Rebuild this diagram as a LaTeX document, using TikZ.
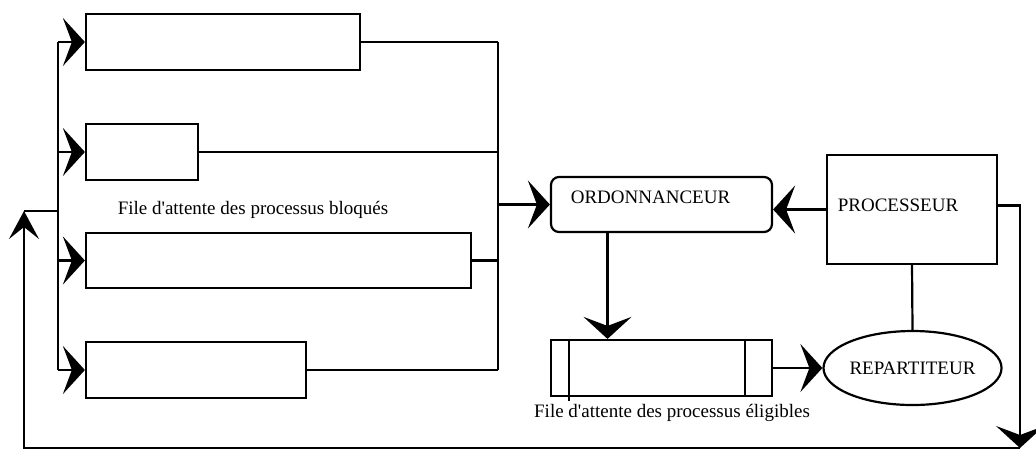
\documentclass[tikz,border=0pt]{standalone}
\usepackage{fontspec}
\setmainfont{Liberation Serif}[Ligatures=TeXOff]
\usetikzlibrary{arrows.meta, positioning, shapes.geometric}

\begin{document}
\begin{tikzpicture}[
    x=0.5pt, y=-0.5pt,
    line width=1.1pt,
    every node/.style={font=\fontsize{9.5}{11}\selectfont, inner sep=0pt},
    box/.style={draw, minimum height=28pt},
    arrow/.style={-{Stealth[length=11pt, width=24pt, inset=4.5pt]}},
    uparrow/.style={-{Stealth[length=14pt, width=15pt, inset=6pt]}}
]
    \useasboundingbox (0,0) rectangle (1036,450);

    % Nodes
    \node[box, minimum width=137pt] (box1) at (223,42) {};
    \node[box, minimum width=56pt] (box2) at (142,152) {};
    \node[box, minimum width=192.5pt, minimum height=27.5pt] (box3) at (278.5,260.5) {};
    \node[box, minimum width=110pt] (box4) at (196,370) {};
    \node (lblbloq) at (253,210) {File d'attente des processus bloqués};

    \node[box, rounded corners=4pt, minimum width=110.5pt, minimum height=27.5pt,
          label={[xshift=-5.5pt, yshift=3.5pt]center:ORDONNANCEUR}] (ordo) at (661.5,204.5) {};
    \node[box, minimum width=85pt, minimum height=54.5pt,
          label={[xshift=-7pt, yshift=2pt]center:PROCESSEUR}] (proc) at (912,209.5) {};
    \node[box, minimum width=110.5pt] (elig) at (661.5,368) {};
    \node (lbelig) at (672,413) {File d'attente des processus éligibles};
    \node[draw, ellipse, minimum width=84.5pt, minimum height=37pt] (rep) at (912.5,368) {REPARTITEUR};

    \coordinate (lbus) at (58,0);
    \coordinate (rbus) at (498,0);
    \coordinate (ret) at (1020,448);
    \coordinate (up) at (24,211);

    % Queue walls
    \draw ([xshift=9.5pt]elig.north west) -- ([xshift=9.5pt, yshift=-2pt]elig.south west);
    \draw ([xshift=-14pt]elig.north east) -- ([xshift=-14pt]elig.south east);

    % Arrows
    \draw (lbus |- box1.west) -- (lbus |- box4.west);
    \draw (rbus |- box1.east) -- (rbus |- box4.east);
    \foreach \b in {box1, box2, box3, box4} {
        \draw[arrow] (lbus |- \b.west) -- (\b.west);
        \draw (\b.east) -- (rbus |- \b.east);
    }
    \draw[arrow] (rbus |- ordo.west) -- (ordo.west);
    \draw[arrow] (proc.west) -- (proc.west -| ordo.east);
    \draw[arrow] ([xshift=-27pt]ordo.south) -- ([xshift=-27pt]elig.north);
    \draw[arrow] (elig.east) -- (rep.west);
    \draw (proc.south) -- (rep.north);
    \draw[arrow] ([yshift=2pt]proc.east) -| (ret);
    \draw[uparrow] (ret) -| (up);
    \draw (up) -- (lbus |- up);
\end{tikzpicture}
\end{document}
